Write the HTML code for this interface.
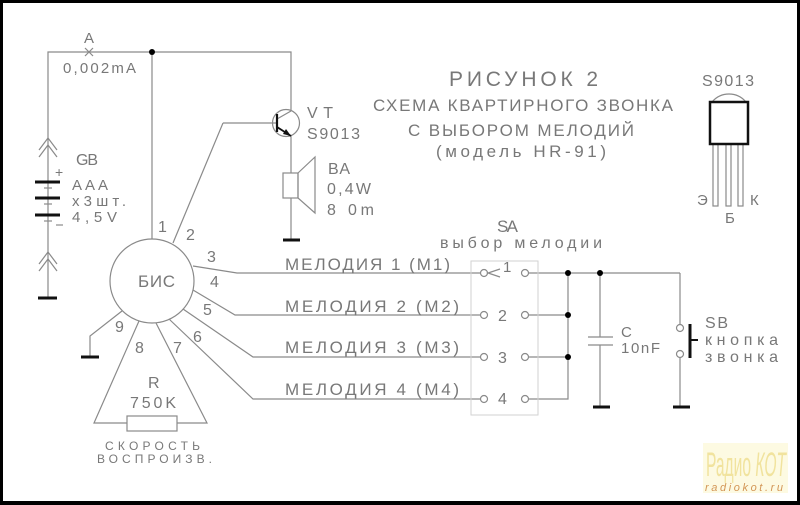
<!DOCTYPE html>
<html><head><meta charset="utf-8"><style>
html,body{margin:0;padding:0;background:#fff;}
svg{display:block;}
text{font-family:"Liberation Sans","DejaVu Sans",sans-serif;fill:#787878;}
</style></head><body>
<svg width="800" height="505" viewBox="0 0 800 505" xmlns="http://www.w3.org/2000/svg">
<rect x="0" y="0" width="800" height="505" fill="#fff"/>
<!-- border -->
<rect x="0" y="0" width="800" height="3" fill="#000"/>
<rect x="0" y="0" width="3" height="505" fill="#000"/>
<rect x="797" y="0" width="3" height="505" fill="#000"/>
<rect x="0" y="501" width="800" height="4" fill="#000"/>

<g stroke="#8a8a8a" stroke-width="1.2" fill="none">
  <polyline points="48,298 48,52 291,52 291,110"/>
  <line x1="152" y1="52" x2="152" y2="239"/>
  <line x1="85" y1="48" x2="93" y2="56"/>
  <line x1="85" y1="56" x2="93" y2="48"/>
  <polyline points="39,150 48,138 57,150"/>
  <polyline points="39,157 48,145 57,157"/>
  <polyline points="39,264 48,252 57,264"/>
  <polyline points="39,271 48,259 57,271"/>
  <line x1="44" y1="188" x2="52" y2="188"/>
  <line x1="44" y1="204" x2="52" y2="204"/>
  <line x1="44" y1="221" x2="52" y2="221"/>
  <line x1="56" y1="225" x2="63" y2="225"/>
  <circle cx="286" cy="123" r="13.5"/>
  <polyline points="223,123 277,123"/>
  <line x1="223" y1="123" x2="173" y2="243"/>
  <line x1="277" y1="119" x2="291" y2="111"/>
  <line x1="291" y1="136" x2="291" y2="173"/>
  <rect x="283" y="173" width="15" height="25"/>
  <polygon points="298,173 315,157 315,213 298,198"/>
  <line x1="291" y1="198" x2="291" y2="240"/>
  <circle cx="152" cy="281" r="42"/>
  <polyline points="193,266 237,273 481,273"/>
  <polyline points="193,290 235,315 481,315"/>
  <polyline points="183,309 253,357 481,357"/>
  <polyline points="169,319 253,399 481,399"/>
  <polyline points="122,311 90,336 90,357"/>
  <polyline points="139,321 94,423 127,423"/>
  <polyline points="156,323 207,423 177,423"/>
  <rect x="127" y="416" width="50" height="15"/>
  <circle cx="484" cy="273" r="3.5"/><circle cx="525" cy="273" r="3.5"/>
  <circle cx="484" cy="315" r="3.5"/><circle cx="525" cy="315" r="3.5"/>
  <circle cx="484" cy="357" r="3.5"/><circle cx="525" cy="357" r="3.5"/>
  <circle cx="484" cy="399" r="3.5"/><circle cx="525" cy="399" r="3.5"/>
  <polyline points="500,269 488,273 500,277"/>
  <line x1="529" y1="273" x2="680" y2="273"/>
  <line x1="529" y1="315" x2="568" y2="315"/>
  <line x1="529" y1="357" x2="568" y2="357"/>
  <polyline points="529,399 568,399 568,273"/>
  <line x1="600" y1="273" x2="600" y2="337"/>
  <line x1="588" y1="337" x2="613" y2="337"/>
  <line x1="588" y1="345" x2="613" y2="345"/>
  <line x1="600" y1="345" x2="600" y2="407"/>
  <line x1="680" y1="273" x2="680" y2="324.5"/>
  <circle cx="680" cy="328" r="3.5"/>
  <circle cx="680" cy="354" r="3.5"/>
  <line x1="680" y1="357.5" x2="680" y2="407"/>
  <rect x="713" y="144" width="5" height="62"/>
  <rect x="726" y="144" width="5" height="62"/>
  <rect x="738" y="144" width="5" height="62"/>
  <path d="M712,102 A22 22 0 0 1 746,102"/>
</g>
<rect x="471" y="261" width="67" height="154" fill="none" stroke="#d2d2d2" stroke-width="1"/>

<g stroke="#111" fill="none">
  <line x1="35" y1="182" x2="60" y2="182" stroke-width="3"/>
  <line x1="35" y1="198" x2="60" y2="198" stroke-width="3"/>
  <line x1="35" y1="215" x2="60" y2="215" stroke-width="3"/>
  <line x1="38" y1="298" x2="57" y2="298" stroke-width="3"/>
  <line x1="81" y1="357" x2="99" y2="357" stroke-width="3"/>
  <line x1="283" y1="240" x2="300" y2="240" stroke-width="3"/>
  <line x1="593" y1="407" x2="610" y2="407" stroke-width="3"/>
  <line x1="673" y1="407" x2="690" y2="407" stroke-width="3"/>
  <line x1="277" y1="114" x2="277" y2="132" stroke-width="2.2"/>
  <line x1="277" y1="127" x2="291" y2="136" stroke-width="1.8"/>
  <line x1="690" y1="324" x2="690" y2="358" stroke-width="3"/>
  <line x1="690" y1="340" x2="698" y2="340" stroke-width="2"/>
  <rect x="710" y="102" width="38" height="42" stroke-width="2.5"/>
</g>
<polygon points="291,136 283,134 286,129" fill="#111"/>
<g fill="#000">
  <circle cx="152" cy="52" r="3"/>
  <circle cx="568" cy="273" r="3"/>
  <circle cx="600" cy="273" r="3"/>
  <circle cx="568" cy="315" r="3"/>
  <circle cx="568" cy="357" r="3"/>
</g>

<text x="84" y="43" font-size="15">A</text>
<text x="63" y="73" font-size="15" textLength="73" lengthAdjust="spacing">0,002mA</text>
<text x="307" y="118" font-size="16" textLength="26" lengthAdjust="spacing">VT</text>
<text x="307" y="139" font-size="16" textLength="53" lengthAdjust="spacing">S9013</text>
<text x="328" y="174" font-size="16" textLength="22" lengthAdjust="spacing">BA</text>
<text x="327" y="194" font-size="16" textLength="44" lengthAdjust="spacing">0,4W</text>
<text x="327" y="215" font-size="16" textLength="47" lengthAdjust="spacing">8 0m</text>
<text x="76" y="165" font-size="16" textLength="22" lengthAdjust="spacing">GB</text>
<text x="72" y="190" font-size="15" textLength="36" lengthAdjust="spacing">AAA</text>
<text x="72" y="206" font-size="15" textLength="54" lengthAdjust="spacing">x3шт.</text>
<text x="72" y="222" font-size="15" textLength="45" lengthAdjust="spacing">4,5V</text>
<text x="55" y="177" font-size="14">+</text>

<g font-size="16">
<text x="158" y="232">1</text>
<text x="186" y="240">2</text>
<text x="207" y="262">3</text>
<text x="210" y="287">4</text>
<text x="203" y="315">5</text>
<text x="193" y="342">6</text>
<text x="173" y="353">7</text>
<text x="135" y="353">8</text>
<text x="115" y="332">9</text>
</g>
<text x="138" y="287" font-size="17" textLength="37" lengthAdjust="spacing">БИС</text>
<text x="148" y="388" font-size="16">R</text>
<text x="130" y="408" font-size="16" textLength="46" lengthAdjust="spacing">750K</text>
<text x="105" y="450" font-size="12" textLength="95" lengthAdjust="spacing">СКОРОСТЬ</text>
<text x="97" y="463" font-size="12" textLength="115" lengthAdjust="spacing">ВОСПРОИЗВ.</text>

<text x="285" y="270" font-size="17" textLength="165" lengthAdjust="spacing">МЕЛОДИЯ 1 (M1)</text>
<text x="285" y="312" font-size="17" textLength="174" lengthAdjust="spacing">МЕЛОДИЯ 2 (M2)</text>
<text x="285" y="353" font-size="17" textLength="174" lengthAdjust="spacing">МЕЛОДИЯ 3 (M3)</text>
<text x="285" y="395" font-size="17" textLength="174" lengthAdjust="spacing">МЕЛОДИЯ 4 (M4)</text>

<text x="503" y="272" font-size="15">1</text>
<text x="498" y="321" font-size="16">2</text>
<text x="498" y="363" font-size="16">3</text>
<text x="498" y="404" font-size="16">4</text>

<text x="449" y="86" font-size="21" textLength="149" lengthAdjust="spacing">РИСУНОК 2</text>
<text x="373" y="111" font-size="17" textLength="300" lengthAdjust="spacing">СХЕМА КВАРТИРНОГО ЗВОНКА</text>
<text x="408" y="136" font-size="17" textLength="226" lengthAdjust="spacing">С ВЫБОРОМ МЕЛОДИЙ</text>
<text x="436" y="157" font-size="17" textLength="170" lengthAdjust="spacing">(модель HR-91)</text>

<text x="702" y="86" font-size="16" textLength="52" lengthAdjust="spacing">S9013</text>
<text x="697" y="205" font-size="15">Э</text>
<text x="750" y="205" font-size="15">К</text>
<text x="725" y="223" font-size="15">Б</text>

<text x="497" y="232" font-size="17" textLength="21" lengthAdjust="spacing">SA</text>
<text x="440" y="248" font-size="16" textLength="162" lengthAdjust="spacing">выбор мелодии</text>

<text x="621" y="337" font-size="15">C</text>
<text x="621" y="353" font-size="15" textLength="39" lengthAdjust="spacing">10nF</text>
<text x="705" y="328" font-size="16" textLength="23" lengthAdjust="spacing">SB</text>
<text x="705" y="345" font-size="16" textLength="73" lengthAdjust="spacing">кнопка</text>
<text x="705" y="362" font-size="16" textLength="73" lengthAdjust="spacing">звонка</text>

<rect x="703" y="443" width="85" height="50" fill="#fdfae2"/>
<text x="706" y="476" font-size="34" textLength="80" lengthAdjust="spacingAndGlyphs" style="fill:#f1e39e;font-family:'Liberation Sans Narrow','Liberation Sans',sans-serif;">Радио <tspan font-style="italic">КОТ</tspan></text>
<text x="705" y="491" font-size="11" font-style="italic" textLength="78" lengthAdjust="spacing" style="fill:#d39656;">radiokot.ru</text>
</svg>
</body></html>
